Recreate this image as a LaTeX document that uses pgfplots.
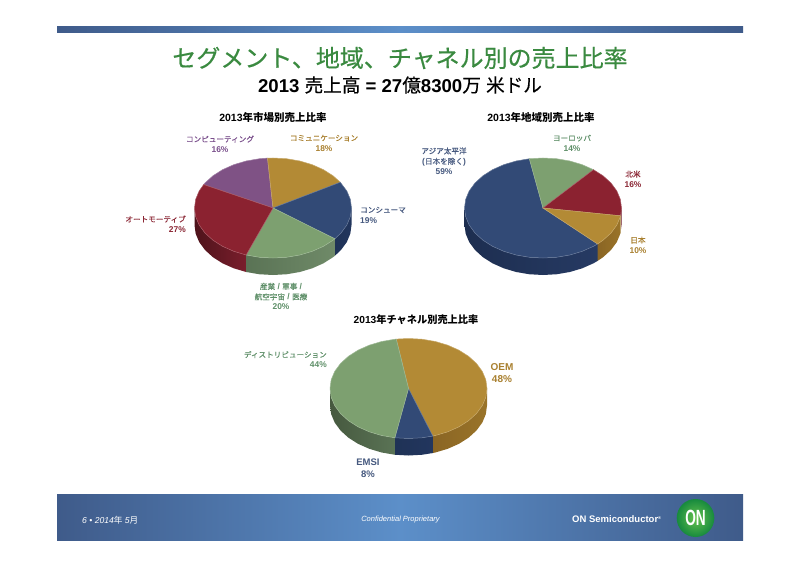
\documentclass[border=0pt]{standalone}
\usepackage{graphicx}
\usepackage{fontspec}
\usepackage{pgfplots}
\pgfplotsset{compat=1.18}
\setmainfont{Liberation Sans}
\newfontfamily\cjk{Noto Sans CJK JP}
\newfontfamily\cjkh[FakeBold=0.5]{Noto Sans CJK JP}
\newfontfamily\cjkm[FakeBold=0.25]{Noto Sans CJK JP}
\newcommand{\J}[1]{{\cjk #1}}
\newcommand{\JH}[1]{{\mdseries\cjkh #1}}
\newcommand{\JM}[1]{{\mdseries\cjkm #1}}
\definecolor{cblue}{HTML}{324A76}
\definecolor{cgreen}{HTML}{7DA070}
\definecolor{cred}{HTML}{8B2230}
\definecolor{cgold}{HTML}{B38A35}
\definecolor{cpurple}{HTML}{7F5285}
\definecolor{tblue}{HTML}{46597F}
\definecolor{tgreen}{HTML}{5E8F68}
\definecolor{tred}{HTML}{8B2634}
\definecolor{tgold}{HTML}{A9802F}
\definecolor{tpurple}{HTML}{7A4F8C}
\definecolor{band}{HTML}{3F5B8A}
\definecolor{bandmid}{HTML}{5C8FC9}
\definecolor{ttl}{HTML}{3A8A40}
\definecolor{wb1}{HTML}{1F3256}
\definecolor{wb2}{HTML}{22365E}
\definecolor{wb3}{HTML}{1D2E50}
\definecolor{wb4}{HTML}{263A63}
\definecolor{wg1}{HTML}{5A7355}
\definecolor{wg2}{HTML}{6F8A68}
\definecolor{wg3}{HTML}{46593F}
\definecolor{wr1}{HTML}{7A1E2C}
\definecolor{wr2}{HTML}{4E131B}
\definecolor{wr3}{HTML}{5E1620}
\definecolor{wy1}{HTML}{8A6524}
\definecolor{wy2}{HTML}{9A7429}
\definecolor{logoa}{HTML}{66C24D}
\definecolor{logob}{HTML}{178A3E}
\pgfplotsset{
  pie/.style={hide axis, scale only axis, clip=false, anchor=center, width=157pt, height=100pt,
    xmin=-1, xmax=1, ymin=-1, ymax=1},
  top/.style={fill=#1, draw=#1!75!white, line width=0.5pt, no markers, forget plot},
  wall/.style 2 args={left color=#1, right color=#2, draw=none, no markers, forget plot},
}
\tikzset{lab/.style={font=\fontsize{8.4}{10.3}\selectfont\bfseries, align=center, inner sep=0pt}}
\newcommand{\LJ}[1]{{\mdseries\cjkm\fontsize{7.6}{10.3}\selectfont #1}}
\begin{document}
\begin{tikzpicture}
\begin{axis}[hide axis, scale only axis, clip=false, width=800pt, height=566pt,
  xmin=0, xmax=800, ymin=0, ymax=566, y dir=reverse]
\addplot[fill=white, draw=none, no markers] coordinates {(0,0)(800,0)(800,566)(0,566)} -- cycle;
\addplot[left color=band, right color=band, middle color=bandmid, draw=none, no markers] coordinates {(57,26)(743,26)(743,32)(57,32)} -- cycle;
\addplot[left color=band, right color=band, middle color=bandmid, draw=none, no markers] coordinates {(57,494)(743,494)(743,540)(57,540)} -- cycle;
\node[text=ttl, font=\fontsize{24}{28}\selectfont] at (axis cs:400,58) {\JH{セグメント、地域、チャネル別の売上比率}};
\node[font=\fontsize{18.6}{20}\selectfont\bfseries] at (axis cs:400,85) {2013 \JH{売上高} = 27\JH{億}8300\JH{万} \JM{米ドル}};
\node[font=\fontsize{10.5}{12}\selectfont\bfseries] at (axis cs:273,118) {2013\J{年市場別売上比率}};
\node[font=\fontsize{10.5}{12}\selectfont\bfseries] at (axis cs:541,118) {2013\J{年地域別売上比率}};
\node[font=\fontsize{10.2}{12}\selectfont\bfseries] at (axis cs:416,320) {2013\J{年チャネル別売上比率}};
% pie 1 labels
\node[lab, text=tpurple] at (axis cs:220,144) {\LJ{コンピューティング}\\16\%};
\node[lab, text=tgold] at (axis cs:324,143) {\LJ{コミュニケーション}\\18\%};
\node[lab, text=tblue, align=left, anchor=west] at (axis cs:360,215) {\LJ{コンシューマ}\\19\%};
\node[lab, text=tred, align=right, anchor=east] at (axis cs:186,224) {\LJ{オートモーティブ}\\27\%};
\node[lab, text=tgreen] at (axis cs:281,296.5) {\LJ{産業} / \LJ{軍事} /\\\LJ{航空宇宙} / \LJ{医療}\\20\%};
% pie 2 labels
\node[lab, text=tblue] at (axis cs:444,161) {\LJ{アジア太平洋}\\(\LJ{日本を除く})\\59\%};
\node[lab, text=tgreen] at (axis cs:572,143) {\LJ{ヨーロッパ}\\14\%};
\node[lab, text=tred] at (axis cs:633,179) {\LJ{北米}\\16\%};
\node[lab, text=tgold] at (axis cs:638,245) {\LJ{日本}\\10\%};
% pie 3 labels
\node[lab, text=tgreen, align=right, anchor=east] at (axis cs:327,359.5) {\LJ{ディストリビューション}\\44\%};
\node[lab, text=tgold, font=\fontsize{10}{12}\selectfont\bfseries] at (axis cs:502,373) {OEM\\48\%};
\node[lab, text=tblue, font=\fontsize{9.5}{12}\selectfont\bfseries] at (axis cs:368,468) {EMSI\\8\%};
% footer text
\node[text=white, font=\fontsize{8.6}{10}\selectfont\itshape, anchor=west, inner sep=0pt] at (axis cs:82,520) {6 \textbullet\ 2014\J{年} 5\J{月}};
\node[text=white, font=\fontsize{7.5}{9}\selectfont\itshape, inner sep=0pt] at (axis cs:400.5,520) {Confidential Proprietary};
\node[text=white, font=\fontsize{9.5}{11}\selectfont\bfseries, anchor=west, inner sep=0pt] at (axis cs:572,519) {ON Semiconductor\raisebox{2.5pt}{\fontsize{4}{4}\selectfont\textregistered}};
\end{axis}
\shade[inner color=logoa, outer color=logob] (695.5pt,48pt) ellipse (18.8pt and 19pt);
\node[text=white, font=\bfseries\fontsize{22}{24}\selectfont, inner sep=0pt] at (695.5pt,48pt) {\scalebox{0.62}[1]{ON}};

% ---------- market pie
\begin{axis}[pie, at={(273pt,358pt)}]
\addplot[wall={wb1}{wb2}] coordinates {(1,0)(.985,-.174)(.94,-.342)(.866,-.5)(.788,-.616)(.788,-.956)(.866,-.84)(.94,-.682)(.985,-.514)(1,-.34)} -- cycle;
\addplot[wall={wg1}{wg2}] coordinates {(.788,-.616)(.766,-.643)(.643,-.766)(.5,-.866)(.342,-.94)(.174,-.985)(0,-1)(-.174,-.985)(-.342,-.94)(-.342,-1.28)(-.174,-1.325)(0,-1.34)(.174,-1.325)(.342,-1.28)(.5,-1.206)(.643,-1.106)(.766,-.983)(.788,-.956)} -- cycle;
\addplot[wall={wr2}{wr1}] coordinates {(-.342,-.94)(-.5,-.866)(-.643,-.766)(-.766,-.643)(-.866,-.5)(-.94,-.342)(-.985,-.174)(-1,0)(-1,-.34)(-.985,-.514)(-.94,-.682)(-.866,-.84)(-.766,-.983)(-.643,-1.106)(-.5,-1.206)(-.342,-1.28)} -- cycle;
\addplot[top=cpurple] coordinates {(0,0)(-.883,.469)(-.866,.5)(-.766,.643)(-.643,.766)(-.5,.866)(-.342,.94)(-.174,.985)(-.07,.998)} -- cycle;
\addplot[top=cgold] coordinates {(0,0)(-.07,.998)(0,1)(.174,.985)(.342,.94)(.5,.866)(.643,.766)(.766,.643)(.857,.515)} -- cycle;
\addplot[top=cblue] coordinates {(0,0)(.857,.515)(.94,.342)(.985,.174)(1,0)(.985,-.174)(.94,-.342)(.866,-.5)(.788,-.616)} -- cycle;
\addplot[top=cgreen] coordinates {(0,0)(.788,-.616)(.766,-.643)(.643,-.766)(.5,-.866)(.342,-.94)(.174,-.985)(0,-1)(-.174,-.985)(-.342,-.94)} -- cycle;
\addplot[top=cred] coordinates {(0,0)(-.342,-.94)(-.5,-.866)(-.643,-.766)(-.766,-.643)(-.866,-.5)(-.94,-.342)(-.985,-.174)(-1,0)(-.985,.174)(-.94,.342)(-.883,.469)} -- cycle;
\end{axis}

% ---------- region pie
\begin{axis}[pie, at={(543pt,358pt)}]
\addplot[wall={wr1}{wr3}] coordinates {(1,0)(.988,-.156)(.988,-.496)(1,-.34)} -- cycle;
\addplot[wall={wy1}{wy2}] coordinates {(.988,-.156)(.985,-.174)(.94,-.342)(.866,-.5)(.766,-.643)(.695,-.719)(.695,-1.059)(.766,-.983)(.866,-.84)(.94,-.682)(.985,-.514)(.988,-.496)} -- cycle;
\addplot[wall={wb3}{wb4}] coordinates {(.695,-.719)(.643,-.766)(.5,-.866)(.342,-.94)(.174,-.985)(0,-1)(-.174,-.985)(-.342,-.94)(-.5,-.866)(-.643,-.766)(-.766,-.643)(-.866,-.5)(-.94,-.342)(-.985,-.174)(-1,0)(-1,-.34)(-.985,-.514)(-.94,-.682)(-.866,-.84)(-.766,-.983)(-.643,-1.106)(-.5,-1.206)(-.342,-1.28)(-.174,-1.325)(0,-1.34)(.174,-1.325)(.342,-1.28)(.5,-1.206)(.643,-1.106)(.695,-1.059)} -- cycle;
\addplot[top=cblue] coordinates {(0,0)(-.174,.985)(-.342,.94)(-.5,.866)(-.643,.766)(-.766,.643)(-.866,.5)(-.94,.342)(-.985,.174)(-1,0)(-.985,-.174)(-.94,-.342)(-.866,-.5)(-.766,-.643)(-.643,-.766)(-.5,-.866)(-.342,-.94)(-.174,-.985)(0,-1)(.174,-.985)(.342,-.94)(.5,-.866)(.643,-.766)(.695,-.719)} -- cycle;
\addplot[top=cgreen] coordinates {(0,0)(-.174,.985)(0,1)(.174,.985)(.342,.94)(.5,.866)(.643,.766)} -- cycle;
\addplot[top=cred] coordinates {(0,0)(.643,.766)(.766,.643)(.866,.5)(.94,.342)(.985,.174)(1,0)(.988,-.156)} -- cycle;
\addplot[top=cgold] coordinates {(0,0)(.988,-.156)(.985,-.174)(.94,-.342)(.866,-.5)(.766,-.643)(.695,-.719)} -- cycle;
\end{axis}

% ---------- channel pie
\begin{axis}[pie, at={(408.5pt,177.5pt)}]
\addplot[wall={wy1}{wy2}] coordinates {(1,0)(.985,-.174)(.94,-.342)(.866,-.5)(.766,-.643)(.643,-.766)(.5,-.866)(.342,-.94)(.309,-.951)(.309,-1.291)(.342,-1.28)(.5,-1.206)(.643,-1.106)(.766,-.983)(.866,-.84)(.94,-.682)(.985,-.514)(1,-.34)} -- cycle;
\addplot[wall={wb1}{wb2}] coordinates {(.309,-.951)(.174,-.985)(0,-1)(-.174,-.985)(-.174,-1.325)(0,-1.34)(.174,-1.325)(.309,-1.291)} -- cycle;
\addplot[wall={wg3}{wg1}] coordinates {(-.174,-.985)(-.342,-.94)(-.5,-.866)(-.643,-.766)(-.766,-.643)(-.866,-.5)(-.94,-.342)(-.985,-.174)(-1,0)(-1,-.34)(-.985,-.514)(-.94,-.682)(-.866,-.84)(-.766,-.983)(-.643,-1.106)(-.5,-1.206)(-.342,-1.28)(-.174,-1.325)} -- cycle;
\addplot[top=cgold] coordinates {(0,0)(-.156,.988)(0,1)(.174,.985)(.342,.94)(.5,.866)(.643,.766)(.766,.643)(.866,.5)(.94,.342)(.985,.174)(1,0)(.985,-.174)(.94,-.342)(.866,-.5)(.766,-.643)(.643,-.766)(.5,-.866)(.342,-.94)(.309,-.951)} -- cycle;
\addplot[top=cblue] coordinates {(0,0)(.309,-.951)(.174,-.985)(0,-1)(-.174,-.985)} -- cycle;
\addplot[top=cgreen] coordinates {(0,0)(-.174,-.985)(-.342,-.94)(-.5,-.866)(-.643,-.766)(-.766,-.643)(-.866,-.5)(-.94,-.342)(-.985,-.174)(-1,0)(-.985,.174)(-.94,.342)(-.866,.5)(-.766,.643)(-.643,.766)(-.5,.866)(-.342,.94)(-.174,.985)(-.156,.988)} -- cycle;
\end{axis}
\end{tikzpicture}
\end{document}
